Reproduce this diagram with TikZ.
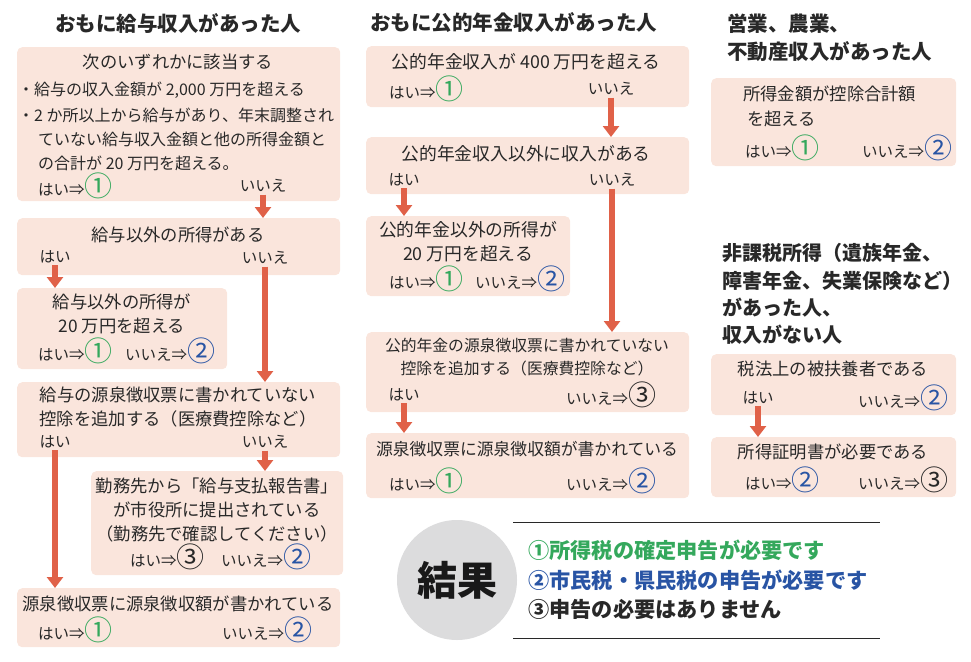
\documentclass[tikz,border=0pt]{standalone}
\usepackage{fontspec}
\setmainfont{Noto Sans CJK JP}
\usetikzlibrary{arrows.meta}
\definecolor{boxc}{RGB}{250,229,220}
\definecolor{arrc}{RGB}{224,97,72}
\definecolor{cgreen}{RGB}{52,168,92}
\definecolor{cblue}{RGB}{40,84,164}
\definecolor{txtc}{RGB}{40,40,40}
\definecolor{circc}{RGB}{220,220,221}
\newcommand\maruA{\raisebox{-1.5pt}{\color{cgreen}\fontsize{28}{28}\selectfont ①}}
\newcommand\maruB{\raisebox{-1.5pt}{\color{cblue}\fontsize{28}{28}\selectfont ②}}
\newcommand\maruC{\raisebox{-1.5pt}{\color{txtc}\fontsize{28}{28}\selectfont ③}}
\tikzset{
  box/.style 2 args={fill=boxc, rounded corners=5pt, anchor=north west, inner sep=0pt, minimum width=#1pt, minimum height=#2pt},
  tx/.style={font=\fontsize{17.3}{24}\selectfont, text=txtc, inner sep=0pt, align=center},
  txs/.style={font=\fontsize{16}{24}\selectfont, text=txtc, inner sep=0pt, anchor=west},
  lb/.style={font=\fontsize{15.5}{16}\selectfont, text=txtc, inner sep=0pt},
  ttl/.style={font=\fontsize{20.5}{28}\bfseries\selectfont, text=txtc, inner sep=0pt, align=left},
  arr/.style={draw=arrc, line width=6pt, -{Triangle[width=16pt,length=11pt]}},
  res/.style={font=\fontsize{21.2}{24}\bfseries\selectfont, inner sep=0pt, anchor=west},
}
\begin{document}
\begin{tikzpicture}[x=1pt,y=-1pt]
\useasboundingbox (0,0) rectangle (971,661);

% ---------- titles
\node[ttl, anchor=west] (t1) at (55,24) {おもに給与収入があった人};
\node[ttl, anchor=west] (t2) at (370,23) {おもに公的年金収入があった人};
\node[ttl, anchor=west] (t3) at (727,37.5) {営業、農業、\\不動産収入があった人};
\node[ttl, anchor=west, font=\fontsize{20}{27.3}\bfseries\selectfont] (t4) at (722,294) {非課税所得（遺族年金、\\障害年金、失業保険など）\\があった人、\\収入がない人};

% ---------- left column
\node[box={323}{154}] (b1) at (17,47) {};
\node[tx] (b1t) at (178,62) {次のいずれかに該当する};
\node[txs] (b1a) at (18,90) {・給与の収入金額が 2,000 万円を超える};
\node[txs] (b1b) at (18,115) {・2 か所以上から給与があり、年末調整され};
\node[txs] (b1c) at (38,139) {ていない給与収入金額と他の所得金額と};
\node[txs] (b1d) at (38,163) {の合計が 20 万円を超える。};
\node[lb, anchor=west] (b1y) at (38,186) {はい⇒\maruA};
\node[lb] (b1n) at (263,186) {いいえ};

\node[box={323}{57}] (b2) at (17,218) {};
\node[tx] (b2t) at (178,235) {給与以外の所得がある};
\node[lb] (b2y) at (55,257) {はい};
\node[lb] (b2n) at (265,258) {いいえ};

\node[box={210}{81}] (b3) at (17,288) {};
\node[tx] (b3t) at (122,314) {給与以外の所得が\\20 万円を超える};
\node[lb, anchor=west] (b3y) at (38,351) {はい⇒\maruA};
\node[lb, anchor=west] (b3n) at (125,351) {いいえ⇒\maruB};

\node[box={323}{75}] (b4) at (17,382) {};
\node[tx] (b4t) at (178,407) {給与の源泉徴収票に書かれていない\\控除を追加する（医療費控除など）};
\node[lb] (b4y) at (55,442) {はい};
\node[lb] (b4n) at (265,442) {いいえ};

\node[box={252}{104}] (b5) at (91,471) {};
\node[tx] (b5t) at (217,510) {勤務先から「給与支払報告書」\\が市役所に提出されている\\（勤務先で確認してください）};
\node[lb, anchor=west] (b5y) at (130,557) {はい⇒\maruC};
\node[lb, anchor=west] (b5n) at (221,557) {いいえ⇒\maruB};

\node[box={323}{59}] (b6) at (17,588) {};
\node[tx] (b6t) at (178,604) {源泉徴収票に源泉徴収額が書かれている};
\node[lb, anchor=west] (b6y) at (38,630) {はい⇒\maruA};
\node[lb, anchor=west] (b6n) at (222,630) {いいえ⇒\maruB};

\draw[arr] ([yshift=-2pt]b1n.south) -- (b1n.south |- b2.north);
\draw[arr] ([yshift=-2pt]b2y.south) -- (b2y.south |- b3.north);
\draw[arr] ([yshift=-2pt]b2n.south) -- (b2n.south |- b4.north);
\draw[arr] ([yshift=-2pt]b4n.south) -- (b4n.south |- b5.north);
\draw[arr] ([yshift=-2pt]b4y.south) -- (b4y.south |- b6.north);

% ---------- middle column
\node[box={323}{61}] (m1) at (366,46) {};
\node[tx, font=\fontsize{17.8}{24}\selectfont] (m1t) at (526,62) {公的年金収入が 400 万円を超える};
\node[lb, anchor=west] (m1y) at (389,89) {はい⇒\maruA};
\node[lb] (m1n) at (611,89) {いいえ};

\node[box={323}{57}] (m2) at (366,137) {};
\node[tx, font=\fontsize{17.8}{24}\selectfont] (m2t) at (526,154) {公的年金収入以外に収入がある};
\node[lb] (m2y) at (404,180) {はい};
\node[lb] (m2n) at (612,180) {いいえ};

\node[box={204}{80}] (m3) at (366,216) {};
\node[tx, font=\fontsize{17.8}{24}\selectfont] (m3t) at (468,242) {公的年金以外の所得が\\20 万円を超える};
\node[lb, anchor=west] (m3y) at (389,279) {はい⇒\maruA};
\node[lb, anchor=west] (m3n) at (475,279) {いいえ⇒\maruB};

\node[box={323}{80}] (m4) at (366,332) {};
\node[tx, font=\fontsize{15.8}{23.5}\selectfont] (m4t) at (527,357) {公的年金の源泉徴収票に書かれていない\\控除を追加する（医療費控除など）};
\node[lb] (m4y) at (404,395) {はい};
\node[lb, anchor=west] (m4n) at (566,395) {いいえ⇒\maruC};

\node[box={323}{65}] (m5) at (366,433) {};
\node[tx, font=\fontsize{16.8}{24}\selectfont] (m5t) at (527,449) {源泉徴収票に源泉徴収額が書かれている};
\node[lb, anchor=west] (m5y) at (389,481) {はい⇒\maruA};
\node[lb, anchor=west] (m5n) at (566,481) {いいえ⇒\maruB};

\draw[arr] ([yshift=-2pt]m1n.south) -- (m1n.south |- m2.north);
\draw[arr] ([yshift=-2pt]m2y.south) -- (m2y.south |- m3.north);
\draw[arr] ([yshift=-2pt]m2n.south) -- (m2n.south |- m4.north);
\draw[arr] ([yshift=-2pt]m4y.south) -- (m4y.south |- m5.north);

% ---------- right column
\node[box={245}{88}] (r1) at (711,78) {};
\node[tx, anchor=west] (r1a) at (743,94) {所得金額が控除合計額};
\node[tx, anchor=west] (r1b) at (747,119) {を超える};
\node[lb, anchor=west] (r1y) at (745,148) {はい⇒\maruA};
\node[lb, anchor=west] (r1n) at (862,148) {いいえ⇒\maruB};

\node[box={245}{61}] (r2) at (711,354) {};
\node[tx] (r2t) at (833,369) {税法上の被扶養者である};
\node[lb] (r2y) at (758,398) {はい};
\node[lb, anchor=west] (r2n) at (858,398) {いいえ⇒\maruB};

\node[box={245}{60}] (r3) at (711,437) {};
\node[tx] (r3t) at (833,452) {所得証明書が必要である};
\node[lb, anchor=west] (r3y) at (745,480) {はい⇒\maruB};
\node[lb, anchor=west] (r3n) at (858,480) {いいえ⇒\maruC};

\draw[arr] ([yshift=-2pt]r2y.south) -- (r2y.south |- r3.north);

% ---------- result
\node[circle, fill=circc, minimum size=120pt, inner sep=0pt] (rc) at (457,580) {};
\node[font=\fontsize{40}{40}\bfseries\selectfont, text=black!90, inner sep=0pt] (rt) at (rc) {結果};
\coordinate (l1a) at (513,522);
\coordinate (l1b) at (880,522);
\coordinate (l2a) at (513,638);
\coordinate (l2b) at (880,638);
\draw[line width=1pt, txtc] (l1a) -- (l1b);
\draw[line width=1pt, txtc] (l2a) -- (l2b);
\node[res, text=cgreen] (ra) at (528,550) {①所得税の確定申告が必要です};
\node[res, text=cblue] (rb) at (528,580) {②市民税・県民税の申告が必要です};
\node[res, text=txtc] (rr) at (528,609) {③申告の必要はありません};
\end{tikzpicture}
\end{document}
